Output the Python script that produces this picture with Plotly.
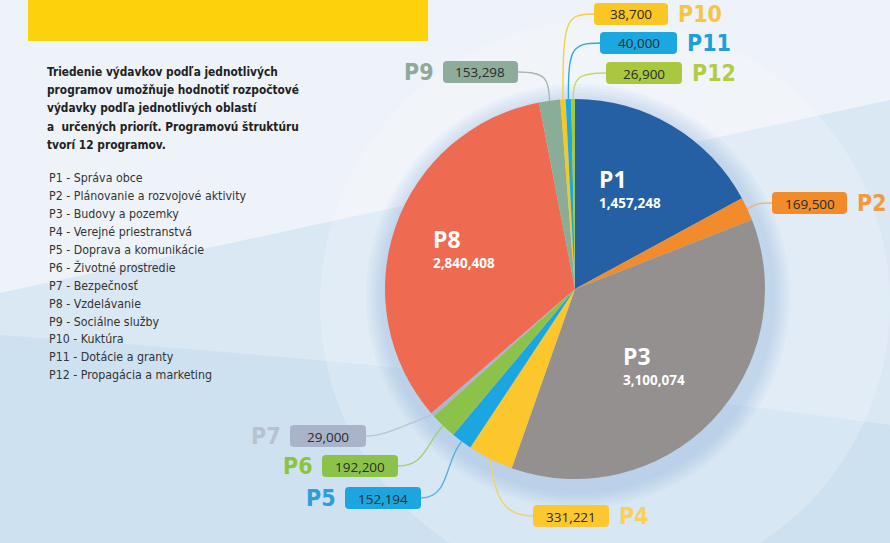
import math

import plotly.graph_objects as go

W, H = 890, 543

# data
programs = ["P1", "P2", "P3", "P4", "P5", "P6", "P7", "P8", "P9", "P10", "P11", "P12"]
program_names = [
    "Správa obce",
    "Plánovanie a rozvojové aktivity",
    "Budovy a pozemky",
    "Verejné priestranstvá",
    "Doprava a komunikácie",
    "Životné prostredie",
    "Bezpečnosť",
    "Vzdelávanie",
    "Sociálne služby",
    "Kuktúra",
    "Dotácie a granty",
    "Propagácia a marketing",
]
values = [1457248, 169500, 3100074, 331221, 152194, 192200, 29000, 2840408, 153298, 38700, 40000, 26900]
intro_lines = [
    "Triedenie výdavkov podľa jednotlivých",
    "programov umožňuje hodnotiť rozpočtové",
    "výdavky podľa jednotlivých oblastí",
    "a  určených priorít. Programovú štruktúru",
    "tvorí 12 programov.",
]
inside_programs = ["P1", "P3", "P8"]

# styles
slice_colors = ["#2460A3", "#F28B2C", "#949090", "#FCC72C", "#1CA6E1", "#8CC24A",
                "#AAB5CB", "#EE6A50", "#8AAD98", "#F8C81E", "#19A8E0", "#A6C83B"]
box_colors = {"P2": "#F28C28", "P4": "#FDC82F", "P5": "#1DA5E0", "P6": "#8BC34A", "P7": "#A9B4CA",
              "P9": "#8DAD9A", "P10": "#F9C623", "P11": "#1BA8E1", "P12": "#A9C73F"}
tag_colors = {"P2": "#F39A3A", "P4": "#FAD157", "P5": "#2A9FD8", "P6": "#8DC43F", "P7": "#B6C1D2",
              "P9": "#8EA99A", "P10": "#F7C541", "P11": "#1E9FDB", "P12": "#B2CC45"}
line_colors = {"P2": "#F0B47E", "P4": "#F0D26A", "P5": "#5AB2E0", "P6": "#A8CE7A", "P7": "#B9C4D6",
               "P9": "#A6B7AE", "P10": "#F3CF45", "P11": "#2DA8DF", "P12": "#C6D86E"}
# box (x0, y0, x1, y1), tag side, bezier controls (c1, c2) in pixels
callouts = {
    "P10": ((594, 3, 668, 25), "right", (563, 20), (565, 14)),
    "P11": ((600, 32, 677, 54), "right", (568, 48), (572, 43)),
    "P12": ((606, 62, 682, 84), "right", (573, 78), (578, 73)),
    "P9": ((443, 61, 518, 83), "left", (549, 78), (545, 72)),
    "P2": ((772, 192, 847, 214), "right", (757, 203), (760, 203)),
    "P7": ((290, 425, 366, 447), "left", (405, 425), (385, 436)),
    "P6": ((322, 455, 398, 477), "left", (425, 445), (425, 466)),
    "P5": ((345, 487, 421, 509), "left", (445, 460), (450, 498)),
    "P4": ((533, 505, 609, 527), "right", (495, 500), (505, 516)),
}

CX, CY, R = 575, 289, 190
NARROW = "DejaVu Sans Condensed, Liberation Sans Narrow, sans-serif"
WIDE = "Open Sans, DejaVu Sans, sans-serif"


def px(x, y):
    return x / W, 1 - y / H


def on_pie(angle, rf=1.0):
    a = math.radians(angle)
    return CX + rf * R * math.sin(a), CY - rf * R * math.cos(a)


def path_of(points, cmds):
    out = []
    for c, pts in zip(cmds, points):
        coords = " ".join(f"{px(x, y)[0]:.5f},{px(x, y)[1]:.5f}" for x, y in pts)
        out.append(f"{c} {coords}")
    return " ".join(out)


def rounded_rect(x0, y0, x1, y1, r=4):
    pts = [[(x0 + r, y0)], [(x1 - r, y0)], [(x1, y0), (x1, y0 + r)], [(x1, y1 - r)],
           [(x1, y1), (x1 - r, y1)], [(x0 + r, y1)], [(x0, y1), (x0, y1 - r)], [(x0, y0 + r)],
           [(x0, y0), (x0 + r, y0)]]
    cmds = ["M", "L", "Q", "L", "Q", "L", "Q", "L", "Q"]
    return path_of(pts, cmds) + " Z"


total = sum(values)
mids = {}
cum = 0
for p, v in zip(programs, values):
    start = cum / total * 360
    cum += v
    mids[p] = (start + cum / total * 360) / 2

fig = go.Figure()
fig.add_trace(
    go.Pie(
        labels=programs,
        values=values,
        sort=False,
        direction="clockwise",
        rotation=0,
        marker={"colors": slice_colors, "line": {"width": 0}},
        textinfo="none",
        hoverinfo="label+value",
        showlegend=False,
        domain={"x": [(CX - R) / W, (CX + R) / W], "y": [1 - (CY + R) / H, 1 - (CY - R) / H]},
    )
)

shapes = []
# background
shapes.append(dict(type="path", path=path_of([[(0, 293)], [(890, 100)], [(890, 543)], [(0, 543)]], "MLLL") + " Z",
                   fillcolor="#DAE8F4", line_width=0, layer="below"))
shapes.append(dict(type="path", path=path_of([[(0, 335)], [(450, 365), (890, 425)], [(890, 543)], [(0, 543)]], "MQLL") + " Z",
                   fillcolor="#CEE1F1", line_width=0, layer="below"))
glow = [(285, 30, 15, "rgba(255,255,255,0.2)")]
glow += [(212 - 3 * k, 3, 7, "rgba(125,160,212,0.05)") for k in range(6)]
for rr, dx, dy, col in glow:
    x0, y1 = px(CX + dx - rr, CY + dy - rr)
    x1, y0 = px(CX + dx + rr, CY + dy + rr)
    shapes.append(dict(type="circle", xref="paper", yref="paper", x0=x0, x1=x1, y0=y0, y1=y1,
                       fillcolor=col, line_width=0, layer="below"))
# yellow header bar
x0, y1 = px(28, 0)
x1, y0 = px(428, 41)
shapes.append(dict(type="rect", x0=x0, x1=x1, y0=y0, y1=y1, fillcolor="#FDD10B", line_width=0, layer="below"))

annotations = []
for i, line in enumerate(intro_lines):
    x, y = px(45, 72 + 18.2 * i)
    annotations.append(dict(x=x, y=y, text=f"<b>{line}</b>", xanchor="left", yanchor="middle",
                            font={"family": NARROW, "size": 11.8, "color": "#222222"}))
for i, (p, name) in enumerate(zip(programs, program_names)):
    x, y = px(47, 178.3 + 17.9 * i)
    annotations.append(dict(x=x, y=y, text=f"{p} - {name}", xanchor="left", yanchor="middle",
                            font={"family": NARROW, "size": 12.3, "color": "#333333"}))

# labels inside the big slices
for p in inside_programs:
    i = programs.index(p)
    cx, cy = on_pie(mids[p], 0.6)
    x, y = px(cx - 36, cy - 4)
    text = (f"<span style='font-size:23px'><b>{p}</b></span><br>"
            f"<b><span style='font-size:13.5px'>{values[i]:,}</span></b>")
    annotations.append(dict(x=x, y=y, text=text, xanchor="left", yanchor="middle", align="left",
                            font={"family": WIDE, "size": 15, "color": "white"}))

# callouts
for p, (box, side, c1, c2) in callouts.items():
    i = programs.index(p)
    bx0, by0, bx1, by1 = box
    ym = (by0 + by1) / 2
    start = on_pie(mids[p])
    end = (bx0, ym) if start[0] < bx0 else (bx1, ym)
    shapes.append(dict(type="path", path=path_of([[start], [c1, c2, end]], "MC"),
                       line={"color": line_colors[p], "width": 1.4}, layer="above"))
    shapes.append(dict(type="path", path=rounded_rect(bx0, by0, bx1, by1), fillcolor=box_colors[p],
                       line_width=0, layer="above"))
    x, y = px((bx0 + bx1) / 2, ym + 0.5)
    annotations.append(dict(x=x, y=y, text=f"{values[i]:,}", xanchor="center", yanchor="middle",
                            font={"family": WIDE, "size": 13.5, "color": "#2B2B2B"}))
    if side == "right":
        x, y = px(bx1 + 8, ym)
        anchor = "left"
    else:
        x, y = px(bx0 - 7, ym)
        anchor = "right"
    annotations.append(dict(x=x, y=y, text=f"<b>{p}</b>", xanchor=anchor, yanchor="middle",
                            font={"family": NARROW, "size": 23, "color": tag_colors[p]}))

for a in annotations:
    a.update(xref="paper", yref="paper", showarrow=False)
for s in shapes:
    s.setdefault("xref", "paper")
    s.setdefault("yref", "paper")

fig.update_layout(
    width=W,
    height=H,
    margin={"l": 0, "r": 0, "t": 0, "b": 0},
    paper_bgcolor="#EEF3F9",
    plot_bgcolor="rgba(0,0,0,0)",
    shapes=shapes,
    annotations=annotations,
    showlegend=False,
)

fig.write_html("out.html", config={"displayModeBar": False}, post_script="document.body.style.margin='0';")
